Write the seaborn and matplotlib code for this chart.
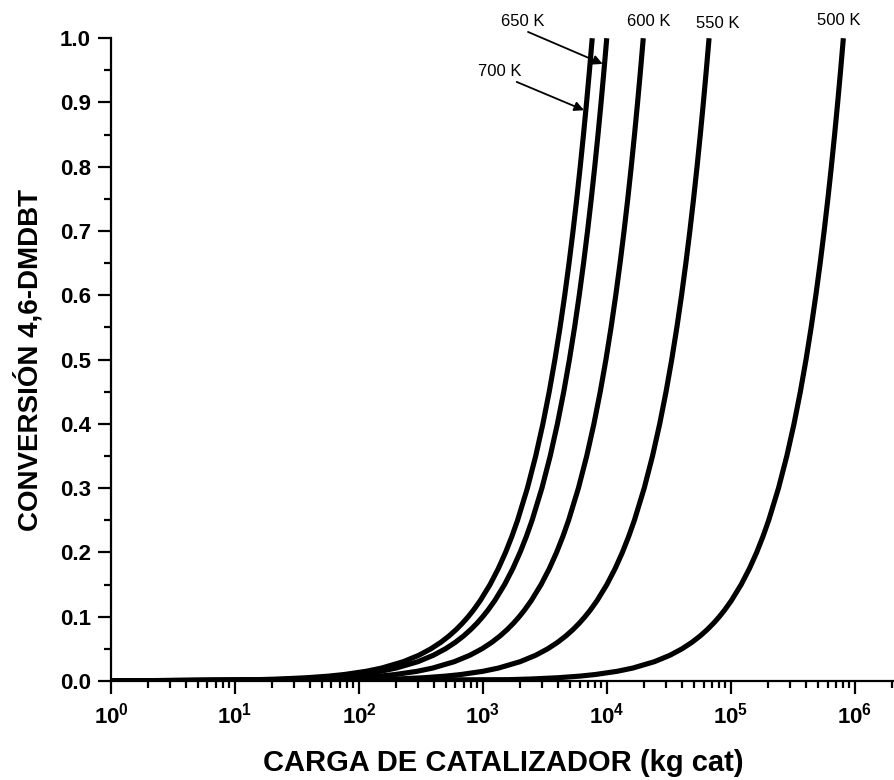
import matplotlib
matplotlib.use("Agg")
import matplotlib.pyplot as plt
import matplotlib.ticker as mticker
import numpy as np
import pandas as pd
import seaborn as sns

# ---------------- data ----------------
conversion = [0.0, 0.002, 0.003, 0.005, 0.0075, 0.01, 0.015, 0.02, 0.03, 0.04,
              0.05, 0.06, 0.07, 0.08, 0.09, 0.1, 0.11, 0.125, 0.15, 0.175,
              0.2, 0.225, 0.25, 0.3, 0.35, 0.4, 0.45, 0.5, 0.55, 0.6,
              0.65, 0.7, 0.75, 0.8, 0.85, 0.9, 0.95, 1.0]

w_700 = [1, 15.2, 22.8, 38, 57, 76, 114, 152, 228, 304,
         380, 456, 532, 608, 684, 760, 836, 950, 1140, 1330,
         1520, 1710, 1900, 2280, 2660, 3040, 3420, 3800, 4180, 4560,
         4940, 5320, 5700, 6080, 6460, 6840, 7220, 7600]
w_650 = [1, 19.9, 29.9, 49.8, 74.6, 99.5, 149, 199, 299, 398,
         498, 597, 697, 796, 896, 995, 1095, 1244, 1493, 1741,
         1990, 2239, 2488, 2985, 3483, 3980, 4478, 4975, 5473, 5970,
         6468, 6965, 7463, 7960, 8458, 8955, 9453, 9950]
w_600 = [1, 39.2, 58.8, 98, 147, 196, 294, 392, 588, 784,
         980, 1176, 1372, 1568, 1764, 1960, 2156, 2450, 2940, 3430,
         3920, 4410, 4900, 5880, 6860, 7840, 8820, 9800, 10780, 11760,
         12740, 13720, 14700, 15680, 16660, 17640, 18620, 19600]
w_550 = [1, 133, 200, 333, 499, 665, 998, 1330, 1995, 2660,
         3325, 3990, 4655, 5320, 5985, 6650, 7315, 8313, 9975, 11638,
         13300, 14963, 16625, 19950, 23275, 26600, 29925, 33250, 36575, 39900,
         43225, 46550, 49875, 53200, 56525, 59850, 63175, 66500]
w_500 = [1, 1610, 2415, 4025, 6038, 8050, 12075, 16100, 24150, 32200,
         40250, 48300, 56350, 64400, 72450, 80500, 88550, 100625, 120750, 140875,
         161000, 181125, 201250, 241500, 281750, 322000, 362250, 402500, 442750, 483000,
         523250, 563500, 603750, 644000, 684250, 724500, 764750, 805000]

temps = ["700 K", "650 K", "600 K", "550 K", "500 K"]
loads = [w_700, w_650, w_600, w_550, w_500]

x_ticks = [1e0, 1e1, 1e2, 1e3, 1e4, 1e5, 1e6]
x_tick_labels = [r"$\mathbf{10^{0}}$", r"$\mathbf{10^{1}}$", r"$\mathbf{10^{2}}$",
                 r"$\mathbf{10^{3}}$", r"$\mathbf{10^{4}}$", r"$\mathbf{10^{5}}$",
                 r"$\mathbf{10^{6}}$"]
y_ticks = [0.0, 0.1, 0.2, 0.3, 0.4, 0.5, 0.6, 0.7, 0.8, 0.9, 1.0]
y_tick_labels = ["0.0", "0.1", "0.2", "0.3", "0.4", "0.5", "0.6", "0.7", "0.8", "0.9", "1.0"]

x_label = "CARGA DE CATALIZADOR (kg cat)"
y_label = "CONVERSIÓN 4,6-DMDBT"

# ---------------- style ----------------
sns.set_style("ticks")
plt.rcParams["font.family"] = ["Liberation Sans", "DejaVu Sans"]
plt.rcParams["mathtext.fontset"] = "custom"
plt.rcParams["mathtext.rm"] = "Liberation Sans:bold"
plt.rcParams["mathtext.bf"] = "Liberation Sans:bold"
plt.rcParams["mathtext.it"] = "Liberation Sans:bold"
plt.rcParams["text.color"] = "black"
plt.rcParams["axes.labelcolor"] = "black"
plt.rcParams["xtick.color"] = "black"
plt.rcParams["ytick.color"] = "black"
plt.rcParams["axes.edgecolor"] = "black"

rows = []
for t, w in zip(temps, loads):
    for wi, xi in zip(w, conversion):
        rows.append({"T": t, "W": wi, "X": xi})
df = pd.DataFrame(rows)

fig = plt.figure(figsize=(8.95, 7.8), dpi=100)
ax = fig.add_axes([0.124, 0.127, 0.876, 0.824])

sns.lineplot(data=df, x="W", y="X", units="T", estimator=None, sort=False,
             color="black", linewidth=3.7, ax=ax, legend=False)
for ln in ax.get_lines():
    ln.set_solid_joinstyle("round")
    ln.set_solid_capstyle("butt")

ax.set_xscale("log")
ax.set_xlim(1, 2.1e6)
ax.set_ylim(0, 1.0)

ax.xaxis.set_major_locator(mticker.FixedLocator(x_ticks))
ax.xaxis.set_major_formatter(mticker.FixedFormatter(x_tick_labels))
ax.xaxis.set_minor_locator(mticker.LogLocator(base=10, subs=np.arange(2, 10), numticks=20))
ax.xaxis.set_minor_formatter(mticker.NullFormatter())

ax.yaxis.set_major_locator(mticker.FixedLocator(y_ticks))
ax.yaxis.set_major_formatter(mticker.FixedFormatter(y_tick_labels))
ax.yaxis.set_minor_locator(mticker.MultipleLocator(0.05))

for s in ["top", "right"]:
    ax.spines[s].set_visible(False)
for s in ["left", "bottom"]:
    ax.spines[s].set_linewidth(1.6)
    ax.spines[s].set_color("black")

ax.tick_params(axis="both", which="major", direction="out", length=9.5, width=1.6,
               color="black", labelcolor="black", labelsize=16)
ax.tick_params(axis="both", which="minor", direction="out", length=5, width=1.6,
               color="black")
ax.tick_params(axis="x", which="major", pad=6)
ax.tick_params(axis="y", which="major", pad=5)
for lab in ax.get_yticklabels():
    lab.set_fontweight("bold")

ax.set_xlabel(x_label, fontsize=21, fontweight="bold", labelpad=15, color="black")
ax.set_ylabel(y_label, fontsize=20, fontweight="bold", labelpad=12, color="black")

# temperature labels
ax.text(2102, 1.0264, "650 K", fontsize=12, ha="center", va="center", clip_on=False)
ax.text(21800, 1.0264, "600 K", fontsize=12, ha="center", va="center", clip_on=False)
ax.text(78500, 1.0233, "550 K", fontsize=12, ha="center", va="center", clip_on=False)
ax.text(743000, 1.0272, "500 K", fontsize=12, ha="center", va="center", clip_on=False)
ax.text(1371, 0.9487, "700 K", fontsize=12, ha="center", va="center", clip_on=False)

arrow = dict(arrowstyle="-|>", color="black", lw=1.3, mutation_scale=14,
             shrinkA=0, shrinkB=0)
ax.annotate("", xy=(9230, 0.96), xytext=(2306, 1.0098), arrowprops=arrow,
            annotation_clip=False)
ax.annotate("", xy=(6530, 0.888), xytext=(1870, 0.932), arrowprops=arrow,
            annotation_clip=False)

fig.savefig("out.png", dpi=100)
